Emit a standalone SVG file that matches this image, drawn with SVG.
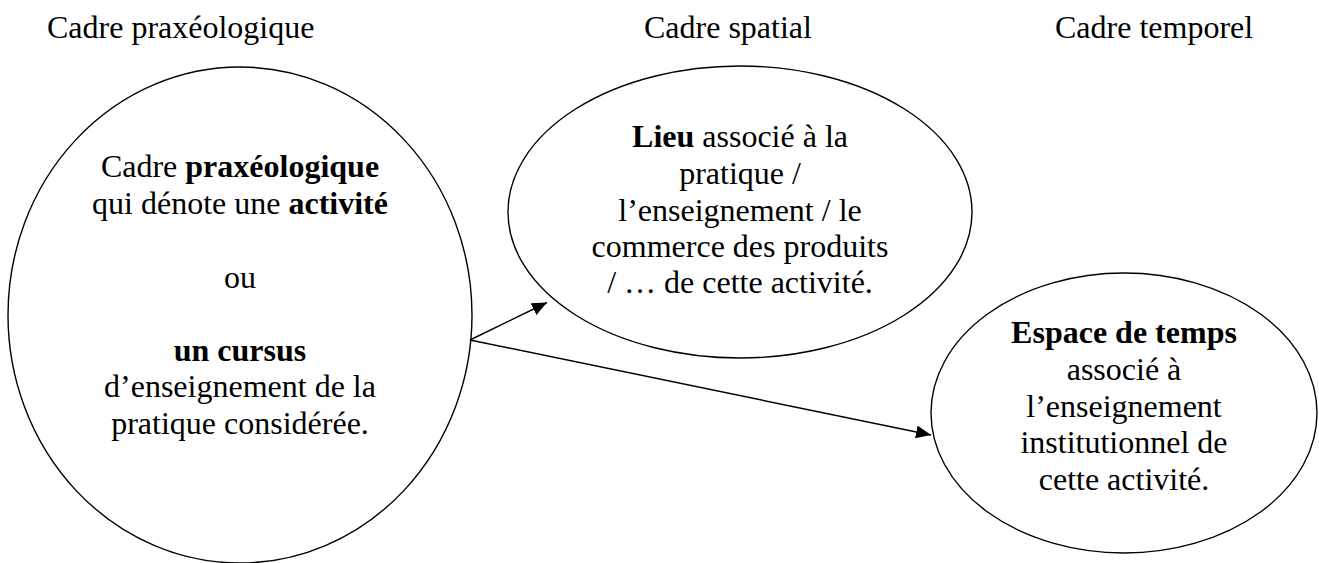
<svg xmlns="http://www.w3.org/2000/svg" width="1319" height="563" viewBox="0 0 1319 563">
<style>
text{font-family:'Liberation Serif','Times New Roman',serif;font-size:32px;fill:#000}
.c{text-anchor:middle}
.b{font-weight:bold}
.n{fill:none;stroke:#000;stroke-width:1.4}
.e{fill:none;stroke:#000;stroke-width:1.5}
</style>
<defs>
<marker id="ah" markerUnits="userSpaceOnUse" markerWidth="16" markerHeight="13" refX="15" refY="6.5" orient="auto">
<path d="M0,0 L15,6.5 L0,13 z" fill="#000"/>
</marker>
</defs>
<g id="headers" font-family="Liberation Serif, serif">
<text x="47" y="38">Cadre praxéologique</text>
<text x="644" y="38">Cadre spatial</text>
<text x="1055" y="38">Cadre temporel</text>
</g>
<g id="node-praxeologique" font-family="Liberation Serif, serif">
<ellipse class="n" cx="240" cy="315" rx="232" ry="248"/>
<text class="c" x="240" y="177">Cadre <tspan class="b">praxéologique</tspan></text>
<text class="c" x="240" y="214">qui dénote une <tspan class="b">activité</tspan></text>
<text class="c" x="240" y="288">ou</text>
<text class="c b" x="240" y="361">un cursus</text>
<text class="c" x="240" y="397">d’enseignement de la</text>
<text class="c" x="240" y="434">pratique considérée.</text>
</g>
<g id="node-spatial" font-family="Liberation Serif, serif">
<ellipse class="n" cx="740" cy="212" rx="232" ry="146"/>
<text class="c" x="740" y="147"><tspan class="b">Lieu</tspan> associé à la</text>
<text class="c" x="740" y="184">pratique /</text>
<text class="c" x="740" y="221">l’enseignement / le</text>
<text class="c" x="740" y="257">commerce des produits</text>
<text class="c" x="740" y="293">/ … de cette activité.</text>
</g>
<g id="node-temporel" font-family="Liberation Serif, serif">
<ellipse class="n" cx="1124" cy="413" rx="193" ry="140"/>
<text class="c b" x="1124" y="343">Espace de temps</text>
<text class="c" x="1124" y="380">associé à</text>
<text class="c" x="1124" y="417">l’enseignement</text>
<text class="c" x="1124" y="453">institutionnel de</text>
<text class="c" x="1124" y="490">cette activité.</text>
</g>
<g id="connectors">
<line class="e" x1="470" y1="340" x2="547" y2="302.5" marker-end="url(#ah)"/>
<line class="e" x1="470" y1="340" x2="931" y2="435" marker-end="url(#ah)"/>
</g>
</svg>
